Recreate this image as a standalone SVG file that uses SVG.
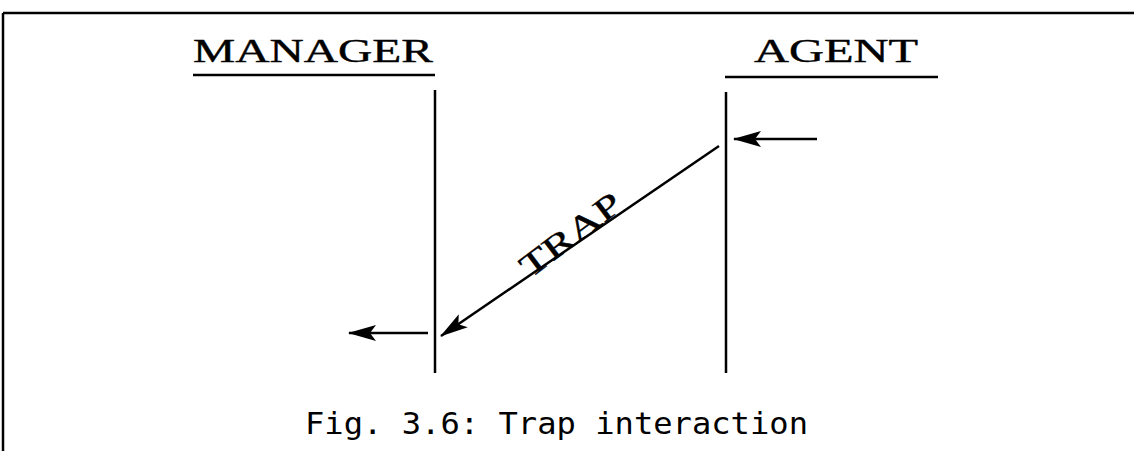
<svg xmlns="http://www.w3.org/2000/svg" width="1134" height="451" viewBox="0 0 1134 451">
<defs>
<style>
.ln{stroke:#000;stroke-width:2.5;fill:none}
.hd{font-family:"Liberation Serif","Times New Roman",serif;font-size:33px;fill:#000;stroke:#000;stroke-width:0.4}
.cap{font-family:"DejaVu Sans Mono","Liberation Mono",monospace;font-size:31px;fill:#000}
</style>
<marker id="ah" viewBox="0 0 28 16" refX="27" refY="8" markerWidth="28" markerHeight="16" markerUnits="userSpaceOnUse" orient="auto">
<path d="M0,0 L28,8 L0,16 L6,8 Z" fill="#000"/>
</marker>
</defs>
<rect x="0" y="0" width="1134" height="451" fill="#fff"/>
<g id="frame">
<line class="ln" x1="3" y1="13" x2="1134" y2="13"/>
<line class="ln" x1="3" y1="13" x2="3" y2="451"/>
</g>
<g id="manager">
<text class="hd" x="193" y="62" textLength="240" lengthAdjust="spacingAndGlyphs">MANAGER</text>
<line class="ln" x1="193" y1="75" x2="435" y2="75"/>
<line class="ln" x1="435" y1="90" x2="435" y2="373"/>
</g>
<g id="agent">
<text class="hd" x="754" y="62" textLength="164" lengthAdjust="spacingAndGlyphs">AGENT</text>
<line class="ln" x1="725" y1="77" x2="938" y2="77"/>
<line class="ln" x1="726" y1="92" x2="726" y2="373"/>
</g>
<g id="connectors">
<line class="ln" x1="817" y1="139" x2="734" y2="139" marker-end="url(#ah)"/>
<line class="ln" x1="719" y1="146" x2="441" y2="336" marker-end="url(#ah)"/>
<line class="ln" x1="428" y1="333" x2="349" y2="333" marker-end="url(#ah)"/>
<text class="hd" x="0" y="0" font-size="30" transform="translate(530,279) rotate(-37)" textLength="118" lengthAdjust="spacingAndGlyphs">TRAP</text>
</g>
<g id="caption">
<text class="cap" x="305" y="434" textLength="503" lengthAdjust="spacingAndGlyphs">Fig. 3.6: Trap interaction</text>
</g>
</svg>
